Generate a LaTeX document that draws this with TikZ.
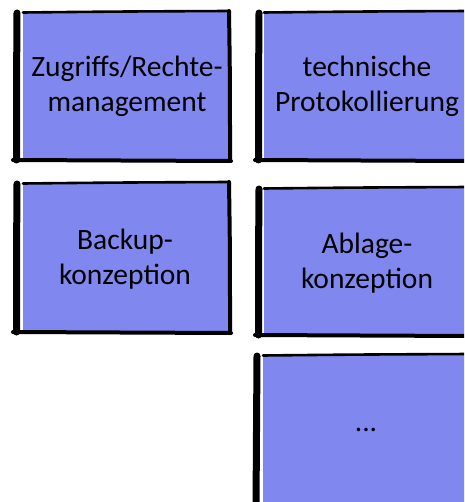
\documentclass[tikz,border=0pt]{standalone}
\usepackage{fontspec}
\setmainfont{Carlito}
\definecolor{boxfill}{RGB}{128,136,240}
\begin{document}
\begin{tikzpicture}[x=1pt,y=-1pt,
  boxtext/.style={font=\fontsize{29.5}{35}\selectfont, align=center, text=black},
  thin edge/.style={draw=black, line width=2.6pt, line cap=round},
  side edge/.style={draw=black, line width=4pt, line cap=round},
  thick edge/.style={draw=black, line width=7pt, line cap=round}]
\useasboundingbox (0,0) rectangle (464,502);
\clip (0,0) rectangle (464,502);
% box 1
\fill[boxfill] (23,12) rectangle (229,159);
\draw[thin edge] (23,12.5) .. controls (120,11.5) .. (229,11);
\draw[side edge] (229,11) .. controls (230,80) .. (230,159);
\draw[side edge] (13,160) .. controls (120,160.5) .. (231,161);
\draw[thick edge] (17,13) .. controls (16.5,90) .. (16.5,160);
\node[boxtext] (zugriff) at (127,86) {Zugriffs/Rechte-\\management};
% box 2
\fill[boxfill] (264,12) rectangle (470,159);
\draw[thin edge] (264,12.5) .. controls (360,11.5) .. (470,11);
\draw[side edge] (255,160) .. controls (360,160.5) .. (470,161);
\draw[thick edge] (259,13) .. controls (258.5,90) .. (258.5,160);
\node[boxtext] (protokoll) at (367,86) {technische\\Protokollierung};
% box 3
\fill[boxfill] (23,183) rectangle (229,331);
\draw[thin edge] (23,183.5) .. controls (120,182.5) .. (229,182);
\draw[side edge] (229,182) .. controls (230,250) .. (230,331);
\draw[side edge] (13,332) .. controls (120,332.5) .. (231,333);
\draw[thick edge] (17,184) .. controls (16.5,260) .. (16.5,332);
\node[boxtext] (backup) at (125,259) {Backup-\\konzeption};
% box 4
\fill[boxfill] (264,188) rectangle (470,334);
\draw[thin edge] (264,188.5) .. controls (360,187.5) .. (470,187);
\draw[side edge] (255,335) .. controls (360,335.5) .. (470,336);
\draw[thick edge] (259,189) .. controls (258.5,260) .. (258.5,335);
\node[boxtext] (ablage) at (367,263) {Ablage-\\konzeption};
% box 5
\fill[boxfill] (263,355) rectangle (470,510);
\draw[thin edge] (263,355.5) .. controls (360,354.5) .. (470,354);
\draw[thick edge] (257,356) .. controls (256.5,430) .. (256,510);
\node[boxtext] (dots) at (366,430) {...};
\end{tikzpicture}
\end{document}
